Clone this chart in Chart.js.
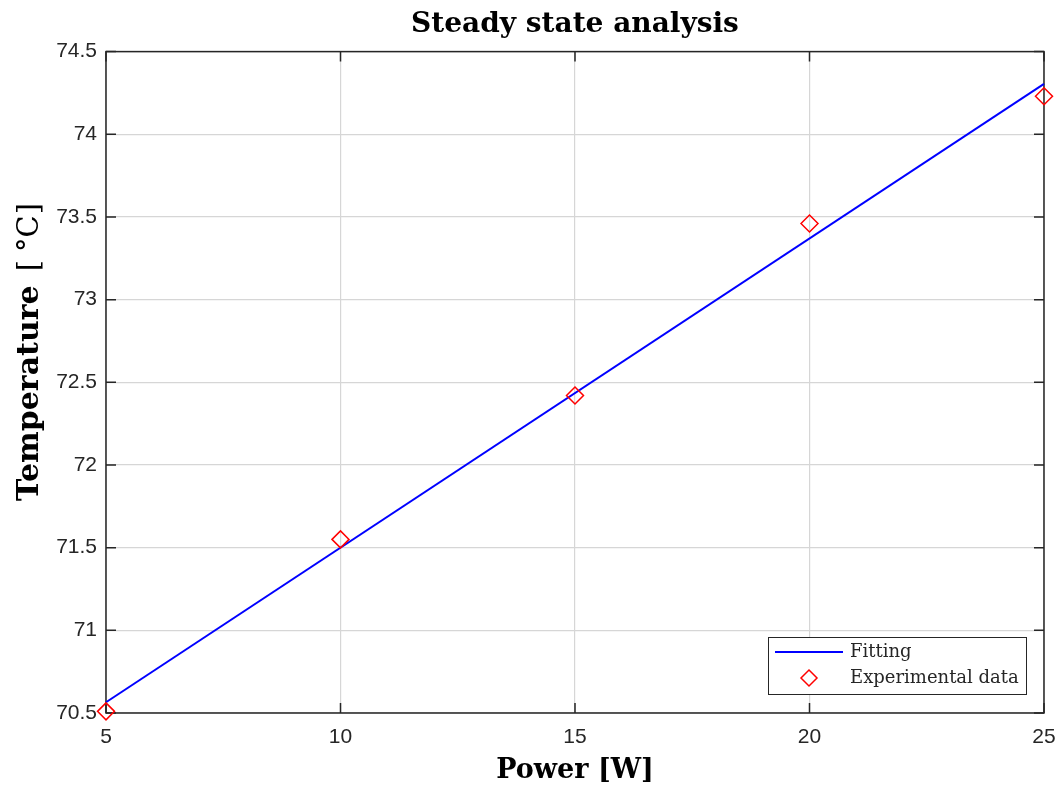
<!DOCTYPE html>
<html>
<head>
<meta charset="utf-8">
<script src="https://cdn.jsdelivr.net/npm/chart.js@4"></script>
<style>
  html, body { margin: 0; padding: 0; background: #fff; }
  #wrap { width: 1061px; height: 787px; }
</style>
</head>
<body>
<div id="wrap"><canvas id="steadyChart"></canvas></div>
<script>
// measured points
const powerW = [5, 10, 15, 20, 25];
const tempMeasured = [70.51, 71.55, 72.42, 73.46, 74.23];
// linear fit end points
const fitPower = [5, 25];
const fitTemp = [70.565, 74.305];

const xTicks = [5, 10, 15, 20, 25];
const yTicks = [70.5, 71, 71.5, 72, 72.5, 73, 73.5, 74, 74.5];

const axisColor = "#262626";
const serif = "'DejaVu Serif', 'Liberation Serif', serif";
const sans = "'Liberation Sans', Arial, sans-serif";

// MATLAB-like box with inward ticks
const boxPlugin = {
    id: "matlabBox",
    beforeDatasetsDraw(chart) {
        const { ctx, chartArea: a, scales } = chart;
        ctx.save();
        ctx.strokeStyle = axisColor;
        ctx.lineWidth = 1.5;
        ctx.strokeRect(a.left, a.top, a.right - a.left, a.bottom - a.top);
        ctx.beginPath();
        xTicks.forEach(v => {
            const px = scales.x.getPixelForValue(v);
            ctx.moveTo(px, a.bottom); ctx.lineTo(px, a.bottom - 10);
            ctx.moveTo(px, a.top); ctx.lineTo(px, a.top + 10);
        });
        yTicks.forEach(v => {
            const py = scales.y.getPixelForValue(v);
            ctx.moveTo(a.left, py); ctx.lineTo(a.left + 10, py);
            ctx.moveTo(a.right, py); ctx.lineTo(a.right - 10, py);
        });
        ctx.stroke();
        ctx.restore();
    }
};

// y label drawn by hand: bold word, upright unit like LaTeX
const yLabelPlugin = {
    id: "yLabel",
    afterDraw(chart) {
        const { ctx } = chart;
        ctx.save();
        ctx.translate(30, 352);
        ctx.rotate(-Math.PI / 2);
        ctx.fillStyle = "#000";
        ctx.textBaseline = "middle";
        ctx.textAlign = "left";
        const bold = "bold 30px " + serif;
        const reg = "29px " + serif;
        const parts = [["Temperature", bold, 14], ["[", reg, 8], ["°", reg, 0], ["C", reg, 1], ["]", reg, 0]];
        let total = 0;
        parts.forEach(p => { ctx.font = p[1]; total += ctx.measureText(p[0]).width + p[2]; });
        let x = -total / 2;
        parts.forEach(p => {
            ctx.font = p[1];
            ctx.fillText(p[0], x, 0);
            x += ctx.measureText(p[0]).width + p[2];
        });
        ctx.restore();
    }
};

// legend box in the lower right corner
const legendPlugin = {
    id: "boxLegend",
    afterDraw(chart) {
        const { ctx } = chart;
        const x0 = 768, y0 = 637, w = 258, h = 57;
        ctx.save();
        ctx.fillStyle = "#fff";
        ctx.fillRect(x0, y0, w, h);
        ctx.strokeStyle = axisColor;
        ctx.lineWidth = 1;
        ctx.strokeRect(x0 + 0.5, y0 + 0.5, w, h);

        ctx.strokeStyle = "#0000ff";
        ctx.lineWidth = 2;
        ctx.beginPath();
        ctx.moveTo(775, 652); ctx.lineTo(843, 652);
        ctx.stroke();

        ctx.strokeStyle = "#ff0000";
        ctx.lineWidth = 1.5;
        ctx.beginPath();
        ctx.moveTo(809, 670); ctx.lineTo(817, 678); ctx.lineTo(809, 686); ctx.lineTo(801, 678);
        ctx.closePath();
        ctx.stroke();

        ctx.fillStyle = axisColor;
        ctx.font = "18px " + serif;
        ctx.textBaseline = "middle";
        ctx.textAlign = "left";
        ctx.fillText("Fitting", 850, 652);
        ctx.fillText("Experimental data", 850, 678);
        ctx.restore();
    }
};

new Chart(document.getElementById("steadyChart"), {
    type: "scatter",
    data: {
        datasets: [{
            label: "Fitting",
            type: "line",
            data: fitPower.map((p, i) => ({ x: p, y: fitTemp[i] })),
            borderColor: "#0000ff",
            borderWidth: 2,
            pointRadius: 0,
            fill: false,
            clip: false,
            order: 2
        }, {
            label: "Experimental data",
            data: powerW.map((p, i) => ({ x: p, y: tempMeasured[i] })),
            pointStyle: "rectRot",
            pointRadius: 8.5,
            borderColor: "#ff0000",
            backgroundColor: "rgba(0,0,0,0)",
            borderWidth: 1.5,
            clip: false,
            order: 1
        }]
    },
    options: {
        responsive: true,
        maintainAspectRatio: false,
        animation: false,
        layout: { padding: { top: 0, right: 17, bottom: 0, left: 0 } },
        plugins: {
            legend: { display: false },
            tooltip: { enabled: false },
            title: {
                display: true,
                fullSize: false,
                text: "Steady state analysis",
                color: "#000",
                font: { family: serif, size: 28, weight: "bold", lineHeight: 1.2 },
                padding: { top: 8, bottom: 10 }
            }
        },
        scales: {
            x: {
                type: "linear",
                min: 5, max: 25,
                afterBuildTicks: s => { s.ticks = xTicks.map(v => ({ value: v })); },
                afterFit: s => { s.height = 74; s.paddingLeft = 0; s.paddingRight = 0; },
                grid: { color: "#d6d6d6", lineWidth: 1.2, drawTicks: false },
                border: { display: false },
                ticks: { color: axisColor, padding: 12, font: { family: sans, size: 21 } },
                title: {
                    display: true, text: "Power [W]", color: "#000",
                    font: { family: serif, size: 27, weight: "bold", lineHeight: 1.2 },
                    padding: { top: 0, bottom: 0 }
                }
            },
            y: {
                type: "linear",
                min: 70.5, max: 74.5,
                afterBuildTicks: s => { s.ticks = yTicks.map(v => ({ value: v })); },
                afterFit: s => { s.width = 106; s.paddingTop = 0; s.paddingBottom = 0; },
                grid: { color: "#d6d6d6", lineWidth: 1.2, drawTicks: false },
                border: { display: false },
                ticks: {
                    color: axisColor, padding: 9, font: { family: sans, size: 21 },
                    callback: v => String(v)
                },
                title: { display: false }
            }
        }
    },
    plugins: [boxPlugin, yLabelPlugin, legendPlugin]
});
</script>
</body>
</html>
